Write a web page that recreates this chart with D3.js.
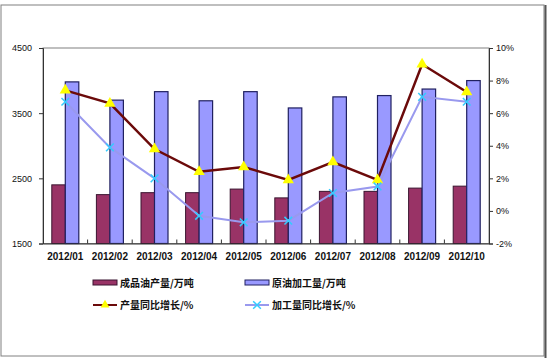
<!DOCTYPE html>
<html><head><meta charset="utf-8">
<script src="https://cdn.jsdelivr.net/npm/d3@7/dist/d3.min.js"></script>
<style>body{margin:0;background:#fff}svg{display:block}</style>
</head><body>
<script>
const categories = ["2012/01","2012/02","2012/03","2012/04","2012/05","2012/06","2012/07","2012/08","2012/09","2012/10"];
const productOutput = [2400,2250,2280,2280,2335,2200,2300,2300,2350,2380];
const crudeProcessing = [3980,3700,3830,3690,3830,3580,3750,3770,3870,4000];
const outputGrowth = [7.4,6.6,3.8,2.4,2.7,1.9,3.0,1.9,9.0,7.3];
const processingGrowth = [6.7,3.9,2.0,-0.3,-0.7,-0.6,1.1,1.5,7.0,6.7];
const leftTicks = [1500,2500,3500,4500];
const rightTicks = [-2,0,2,4,6,8,10];
const seriesNames = ["成品油产量/万吨","原油加工量/万吨","产量同比增长/%","加工量同比增长/%"];

const W=547,H=358;
const m={l:43,r:489,t:48,b:243.5};
const svg=d3.select("body").append("svg").attr("width",W).attr("height",H);
svg.append("rect").attr("width",W).attr("height",H).attr("fill","#fff");
// outer frame
svg.append("rect").attr("x",1).attr("y",5).attr("width",543).attr("height",351)
  .attr("fill","none").attr("stroke","#808080").attr("stroke-width",1);
svg.append("line").attr("x1",545.5).attr("x2",545.5).attr("y1",5).attr("y2",358).attr("stroke","#555").attr("stroke-width",2);

const x=d3.scaleBand().domain(categories).range([m.l,m.r]);
const yL=d3.scaleLinear().domain([1500,4500]).range([m.b,m.t]);
const yR=d3.scaleLinear().domain([-2,10]).range([m.b,m.t]);
const bw=13.5;
const fontF="'Liberation Sans', Arial, sans-serif";

// plot border
svg.append("rect").attr("x",m.l).attr("y",m.t).attr("width",m.r-m.l).attr("height",m.b-m.t)
  .attr("fill","none").attr("stroke","#808080");

// bars
svg.append("g").selectAll("rect").data(categories).join("rect")
  .attr("x",d=>x(d)+x.bandwidth()/2-bw).attr("width",bw)
  .attr("y",(d,i)=>yL(productOutput[i])).attr("height",(d,i)=>m.b-yL(productOutput[i]))
  .attr("fill","#993366").attr("stroke","#3a1530").attr("stroke-width",1);
svg.append("g").selectAll("rect").data(categories).join("rect")
  .attr("x",d=>x(d)+x.bandwidth()/2).attr("width",bw)
  .attr("y",(d,i)=>yL(crudeProcessing[i])).attr("height",(d,i)=>m.b-yL(crudeProcessing[i]))
  .attr("fill","#9999FF").attr("stroke","#202060").attr("stroke-width",1.2);

// axes
const axL=d3.axisLeft(yL).tickValues(leftTicks).tickSize(4).tickFormat(d3.format("d"));
const gL=svg.append("g").attr("transform",`translate(${m.l},0)`).call(axL);
const axR=d3.axisRight(yR).tickValues(rightTicks).tickSize(4).tickFormat(d=>d+"%");
const gR=svg.append("g").attr("transform",`translate(${m.r},0)`).call(axR);
const axB=d3.axisBottom(x).tickSize(0).tickPadding(9);
const gB=svg.append("g").attr("transform",`translate(0,${m.b})`).call(axB);
[gL,gR,gB].forEach(g=>{
  g.select(".domain").attr("stroke","#333");
  g.selectAll(".tick line").attr("stroke","#333");
  g.selectAll("text").attr("font-family",fontF).attr("font-size",9).attr("fill","#111");
});
gL.selectAll("text").attr("x",-11);
gR.selectAll("text").attr("x",7);
gB.selectAll("text").attr("font-weight","bold").attr("font-size",10).attr("dy","0.71em");
// category separator ticks (inward)
svg.append("g").selectAll("line").data(categories.slice(1)).join("line")
  .attr("x1",d=>x(d)).attr("x2",d=>x(d)).attr("y1",m.b-4).attr("y2",m.b).attr("stroke","#333");

// lines
const cx=d=>x(d)+x.bandwidth()/2;
const line=arr=>d3.line().x((d,i)=>cx(categories[i])).y(d=>yR(d))(arr);
svg.append("path").attr("d",line(processingGrowth)).attr("fill","none").attr("stroke","#9999EE").attr("stroke-width",2);
svg.append("path").attr("d",line(outputGrowth)).attr("fill","none").attr("stroke","#6b0a0a").attr("stroke-width",2.5);

const tri=d3.symbol().type(d3.symbolTriangle).size(55);
svg.append("g").selectAll("path").data(outputGrowth).join("path")
  .attr("d",tri).attr("transform",(d,i)=>`translate(${cx(categories[i])},${yR(d)})`)
  .attr("fill","#FFFF00");
const star=d3.symbol().type(d3.symbolTimes).size(40);
svg.append("g").selectAll("path").data(processingGrowth).join("path")
  .attr("d",star).attr("transform",(d,i)=>`translate(${cx(categories[i])},${yR(d)})`)
  .attr("fill","none").attr("stroke","#33CCFF").attr("stroke-width",1.5);

// legend
const lg=svg.append("g").attr("font-family","'Noto Sans CJK SC', sans-serif").attr("font-size",10).attr("font-weight","bold");
const items=[
  {x:93,y:283,type:"bar",fill:"#993366",stroke:"#3a1530"},
  {x:245,y:283,type:"bar",fill:"#9999FF",stroke:"#202060"},
  {x:93,y:305,type:"line",stroke:"#6b0a0a",mark:"tri"},
  {x:245,y:305,type:"line",stroke:"#9999EE",mark:"star"}
];
items.forEach((it,i)=>{
  if(it.type==="bar"){
    lg.append("rect").attr("x",it.x).attr("y",it.y-3).attr("width",24).attr("height",5)
      .attr("fill",it.fill).attr("stroke",it.stroke);
  } else {
    lg.append("line").attr("x1",it.x).attr("x2",it.x+24).attr("y1",it.y).attr("y2",it.y)
      .attr("stroke",it.stroke).attr("stroke-width",2);
    if(it.mark==="tri"){
      lg.append("path").attr("d",d3.symbol().type(d3.symbolTriangle).size(35)())
        .attr("transform",`translate(${it.x+12},${it.y})`).attr("fill","#FFFF00");
    } else {
      lg.append("path").attr("d",star())
        .attr("transform",`translate(${it.x+12},${it.y})`).attr("fill","none").attr("stroke","#33CCFF").attr("stroke-width",1.5);
    }
  }
  lg.append("text").attr("x",it.x+27).attr("y",it.y+4).text(seriesNames[i]).attr("fill","#111");
});
</script>
</body></html>
